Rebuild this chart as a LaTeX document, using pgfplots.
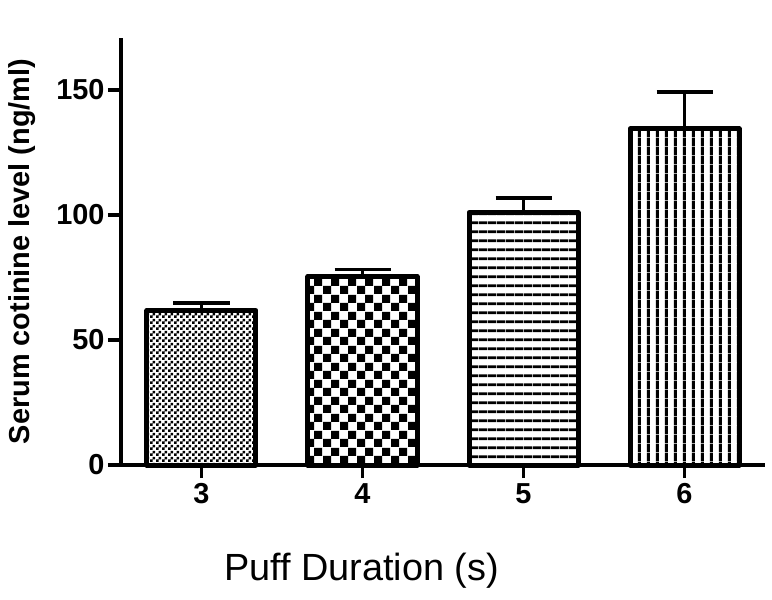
\documentclass[border=0pt]{standalone}
\usepackage{fontspec}
\setmainfont{Liberation Sans}
\usepackage{pgfplots}
\pgfplotsset{compat=1.18}
\usetikzlibrary{patterns,patterns.meta}

\pgfdeclarepattern{
  name=checkfine,
  bottom left={\pgfpoint{0bp}{0bp}},
  top right={\pgfpoint{6bp}{6bp}},
  tile size={\pgfpoint{6bp}{6bp}},
  code={
    \pgfpathrectangle{\pgfpoint{0bp}{0bp}}{\pgfpoint{3bp}{3bp}}
    \pgfpathrectangle{\pgfpoint{3bp}{3bp}}{\pgfpoint{3bp}{3bp}}
    \pgfusepath{fill}
  }
}
\pgfdeclarepattern{
  name=checkcoarse,
  bottom left={\pgfpoint{0bp}{0bp}},
  top right={\pgfpoint{17bp}{17bp}},
  tile size={\pgfpoint{17bp}{17bp}},
  code={
    \pgfpathrectangle{\pgfpoint{0bp}{0bp}}{\pgfpoint{8.5bp}{8.5bp}}
    \pgfpathrectangle{\pgfpoint{8.5bp}{8.5bp}}{\pgfpoint{8.5bp}{8.5bp}}
    \pgfusepath{fill}
  }
}
\pgfdeclarepattern{
  name=hlines,
  bottom left={\pgfpoint{0bp}{0bp}},
  top right={\pgfpoint{8.7bp}{8.7bp}},
  tile size={\pgfpoint{8.7bp}{8.7bp}},
  code={
    \pgfpathrectangle{\pgfpoint{0bp}{3bp}}{\pgfpoint{8.7bp}{2.8bp}}
    \pgfusepath{fill}
  }
}
\pgfdeclarepattern{
  name=vlines,
  bottom left={\pgfpoint{0bp}{0bp}},
  top right={\pgfpoint{8.7bp}{8.7bp}},
  tile size={\pgfpoint{8.7bp}{8.7bp}},
  code={
    \pgfpathrectangle{\pgfpoint{3bp}{0bp}}{\pgfpoint{3bp}{8.7bp}}
    \pgfusepath{fill}
  }
}

\pgfplotstableread{
x y err
3 61.8 3.0
4 75.4 2.8
5 101.0 5.8
6 134.4 14.8
}\cotinine

\begin{document}
\begin{tikzpicture}
\useasboundingbox (-121bp,-135bp) rectangle (651bp,465bp);
\begin{axis}[
  at={(0,0)}, anchor=south west,
  scale only axis, width=644bp, height=427bp,
  xmin=2.5, xmax=6.5, ymin=0, ymax=170.8,
  axis x line*=bottom, axis y line*=left,
  axis line style={line width=4bp, black},
  xtick={3,4,5,6}, ytick={0,50,100,150},
  tick align=outside, major tick length=13bp,
  tick style={line width=3.5bp, black},
  /pgf/number format/assume math mode=true,
  ticklabel style={font=\bfseries\fontsize{29}{29}\selectfont},
  xticklabel style={yshift=-2bp},
  ylabel={\bfseries Serum cotinine level (ng/ml)},
  ylabel style={font=\fontsize{29}{29}\selectfont, at={(axis description cs:-0.154,0.5)}, anchor=center},
  xlabel={Puff Duration (s)},
  xlabel style={font=\fontsize{38}{38}\selectfont, at={(axis description cs:0.3735,-0.2475)}, anchor=center},
  ybar, bar width=109bp, bar shift=0pt,
  clip=false,
  every axis plot/.append style={draw=black, line width=5bp, line join=round},
  error bars/y dir=plus, error bars/y explicit,
  error bars/error bar style={line width=3.8bp, black},
  error bars/error mark options={line width=3.8bp, black, mark size=28bp, rotate=90},
]
\addplot[pattern=checkfine] table[x=x, y=y, y error=err, restrict x to domain=3:3] {\cotinine};
\addplot[pattern=checkcoarse] table[x=x, y=y, y error=err, restrict x to domain=4:4] {\cotinine};
\addplot[pattern=hlines] table[x=x, y=y, y error=err, restrict x to domain=5:5] {\cotinine};
\addplot[pattern=vlines] table[x=x, y=y, y error=err, restrict x to domain=6:6] {\cotinine};
\end{axis}
\end{tikzpicture}
\end{document}
